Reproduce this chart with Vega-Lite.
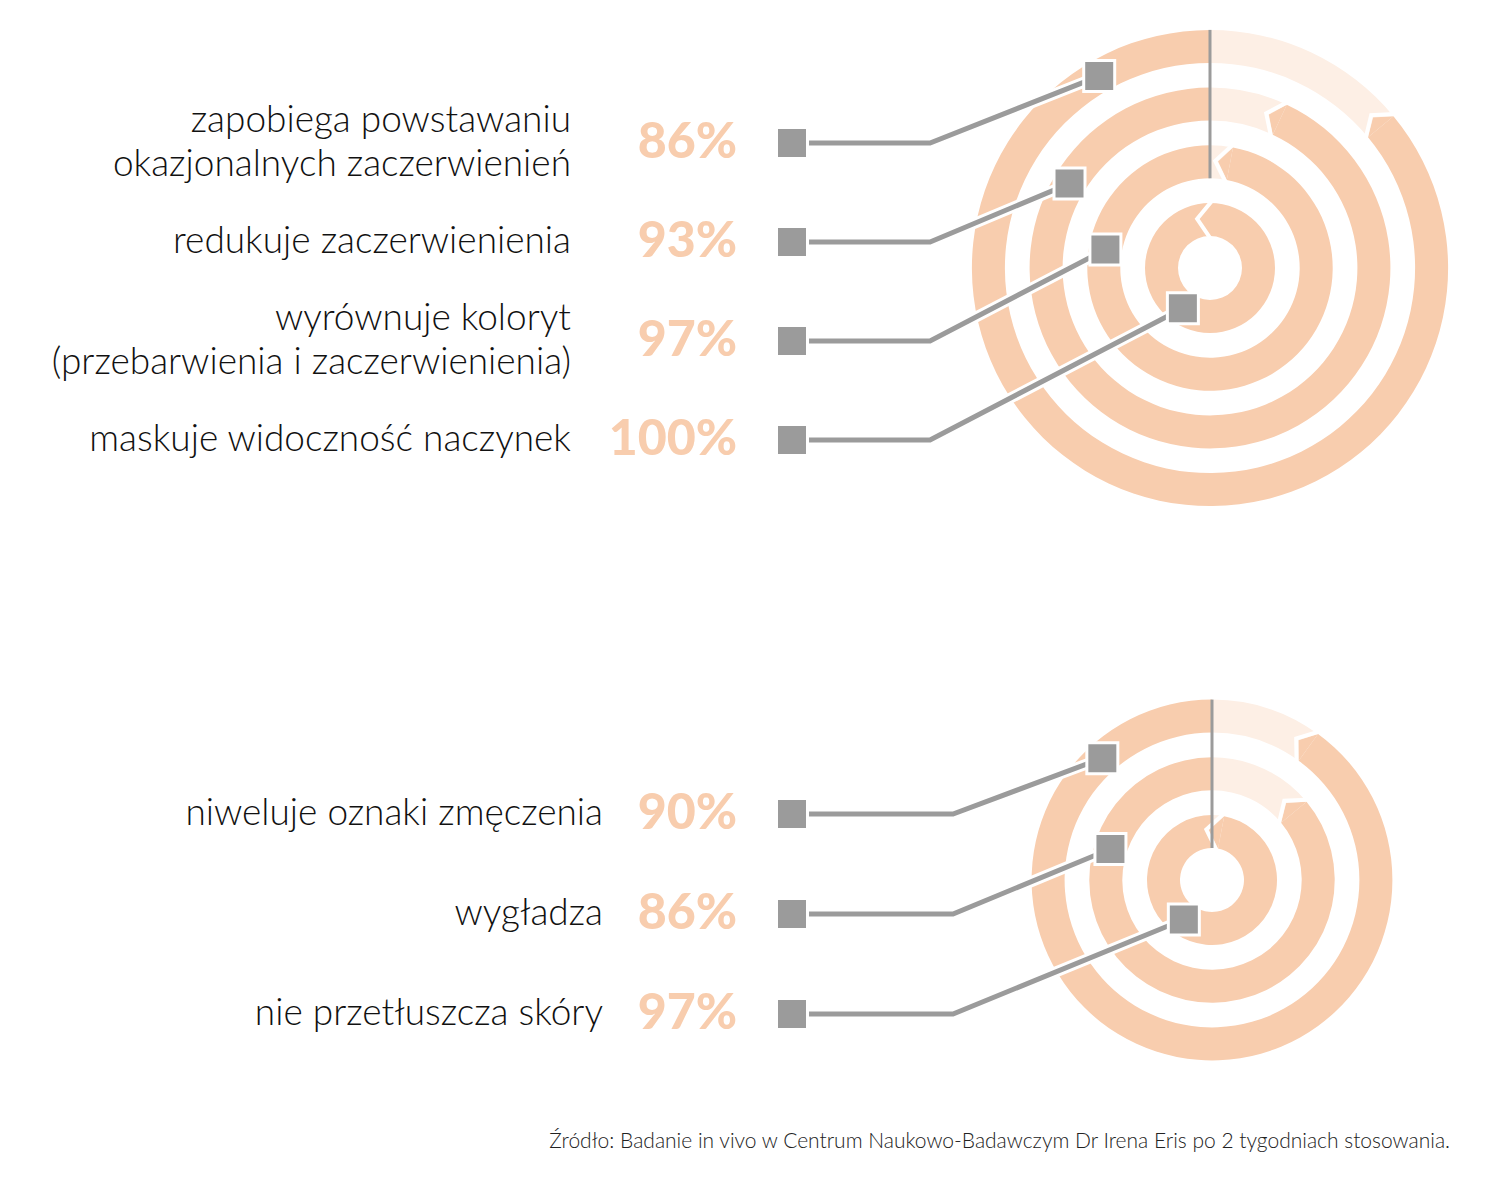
{
  "$schema": "https://vega.github.io/schema/vega-lite/v6.json",
  "width": 1500,
  "height": 1112,
  "padding": 0,
  "background": "white",
  "config": {"view": {"stroke": null}},
  "title": {
    "text": "Źródło: Badanie in vivo w Centrum Naukowo-Badawczym Dr Irena Eris po 2 tygodniach stosowania.",
    "orient": "bottom",
    "anchor": "end",
    "dx": -50,
    "offset": 19,
    "font": "Lato",
    "fontSize": 21,
    "fontWeight": 300,
    "color": "#222222"
  },
  "data": {
    "values": [
      {"panel": "A", "row": 0, "label": "zapobiega powstawaniu\nokazjonalnych zaczerwienień", "value": 86},
      {"panel": "A", "row": 1, "label": "redukuje zaczerwienienia", "value": 93},
      {"panel": "A", "row": 2, "label": "wyrównuje koloryt\n(przebarwienia i zaczerwienienia)", "value": 97},
      {"panel": "A", "row": 3, "label": "maskuje widoczność naczynek", "value": 100},
      {"panel": "B", "row": 0, "label": "niweluje oznaki zmęczenia", "value": 90},
      {"panel": "B", "row": 1, "label": "wygładza", "value": 86},
      {"panel": "B", "row": 2, "label": "nie przetłuszcza skóry", "value": 97}
    ]
  },
  "transform": [
    {"calculate": "datum.panel === 'A' ? 4 : 3", "as": "n"},
    {"calculate": "datum.n - 1 - datum.row", "as": "ring"},
    {"calculate": "datum.panel === 'A' ? 143 + 99 * datum.row : 814 + 100 * datum.row", "as": "rowY"},
    {"calculate": "datum.rowY - 22 * (split(datum.label, '\\n').length - 1)", "as": "labelY"},
    {"calculate": "datum.panel === 'A' ? 1210 : 1212", "as": "cx"},
    {"calculate": "datum.panel === 'A' ? 268 : 880", "as": "cy"},
    {"calculate": "datum.panel === 'A' ? 571 : 603", "as": "labelX"},
    {"calculate": "737", "as": "pctX"},
    {"calculate": "792", "as": "sqX"},
    {"calculate": "datum.panel === 'A' ? 930 : 953", "as": "bendX"},
    {"calculate": "32 + 57.7 * datum.ring", "as": "rIn"},
    {"calculate": "datum.rIn + 16.5", "as": "rMid"},
    {"calculate": "max(100 - datum.value, 0.7)", "as": "g"},
    {"calculate": "datum.value < 100 ? datum.g : 0", "as": "darkStart"},
    {"calculate": "0", "as": "t0"},
    {"calculate": "100", "as": "t1"},
    {"calculate": "datum.g * 3.6", "as": "gDeg"},
    {"calculate": "datum.cx + datum.rMid * sin(datum.g / 100 * 2 * PI)", "as": "gx"},
    {"calculate": "datum.cy - datum.rMid * cos(datum.g / 100 * 2 * PI)", "as": "gy"},
    {"calculate": "datum.panel === 'A' ? [214, 280, 301, 330][datum.ring] : [215.5, 287, 318][datum.ring]", "as": "angDeg"},
    {"calculate": "datum.cx + datum.rMid * sin(datum.angDeg * PI / 180)", "as": "ax"},
    {"calculate": "datum.cy - datum.rMid * cos(datum.angDeg * PI / 180)", "as": "ay"},
    {"calculate": "datum.value + '%'", "as": "pctText"}
  ],
  "layer": [
    {
      "transform": [{"filter": "datum.value < 100"}],
      "mark": {"type": "arc", "color": "#fdefe5", "radiusOffset": 33},
      "encoding": {
        "x": {"field": "cx", "type": "quantitative", "scale": {"domain": [0, 1500], "nice": false, "zero": false}, "axis": null},
        "y": {"field": "cy", "type": "quantitative", "scale": {"domain": [0, 1112], "nice": false, "zero": false, "reverse": true}, "axis": null},
        "theta": {"field": "t0", "type": "quantitative", "scale": {"domain": [0, 100], "range": [0, 6.2831853]}},
        "theta2": {"field": "g"},
        "radius": {"field": "ring", "type": "quantitative", "scale": {"type": "linear", "domain": [0, 3], "range": [32, 205.1], "zero": false}},
        "radius2": {"field": "ring"}
      }
    },
    {
      "mark": {"type": "arc", "color": "#f8cdae", "radiusOffset": 33},
      "encoding": {
        "x": {"field": "cx", "type": "quantitative", "scale": {"domain": [0, 1500], "nice": false, "zero": false}, "axis": null},
        "y": {"field": "cy", "type": "quantitative", "scale": {"domain": [0, 1112], "nice": false, "zero": false, "reverse": true}, "axis": null},
        "theta": {"field": "darkStart", "type": "quantitative", "scale": {"domain": [0, 100], "range": [0, 6.2831853]}},
        "theta2": {"field": "t1"},
        "radius": {"field": "ring", "type": "quantitative", "scale": {"type": "linear", "domain": [0, 3], "range": [32, 205.1], "zero": false}},
        "radius2": {"field": "ring"}
      }
    },
    {
      "transform": [{"filter": "datum.value < 100"}],
      "mark": {"type": "point", "shape": "M0,-0.825L-0.6,0L0,0.825Z", "filled": true, "color": "#f8cdae", "size": 1600, "opacity": 1, "strokeWidth": 0},
      "encoding": {
        "x": {"field": "gx", "type": "quantitative", "scale": {"domain": [0, 1500], "nice": false, "zero": false}, "axis": null},
        "y": {"field": "gy", "type": "quantitative", "scale": {"domain": [0, 1112], "nice": false, "zero": false, "reverse": true}, "axis": null},
        "angle": {"field": "gDeg", "type": "quantitative", "scale": {"domain": [0, 360], "range": [0, 360]}}
      }
    },
    {
      "mark": {"type": "point", "shape": "M0.125,-1L-0.625,0L0.125,1L-0.125,1L-0.875,0L-0.125,-1Z", "filled": true, "color": "white", "size": 1600, "opacity": 1, "strokeWidth": 0},
      "encoding": {
        "x": {"field": "gx", "type": "quantitative", "scale": {"domain": [0, 1500], "nice": false, "zero": false}, "axis": null},
        "y": {"field": "gy", "type": "quantitative", "scale": {"domain": [0, 1112], "nice": false, "zero": false, "reverse": true}, "axis": null},
        "angle": {"field": "gDeg", "type": "quantitative", "scale": {"domain": [0, 360], "range": [0, 360]}}
      }
    },
    {
      "transform": [
        {"filter": "datum.value < 100"},
        {"aggregate": [{"op": "max", "field": "ring", "as": "rmax"}, {"op": "min", "field": "ring", "as": "rmin"}], "groupby": ["panel", "cx", "cy"]},
        {"calculate": "datum.cy - (32 + 57.7 * datum.rmax + 33)", "as": "yTop"},
        {"calculate": "datum.cy - (32 + 57.7 * datum.rmin)", "as": "yBottom"}
      ],
      "mark": {"type": "rule", "color": "#9b9b9b", "strokeWidth": 3},
      "encoding": {
        "x": {"field": "cx", "type": "quantitative", "scale": {"domain": [0, 1500], "nice": false, "zero": false}, "axis": null},
        "y": {"field": "yTop", "type": "quantitative", "scale": {"domain": [0, 1112], "nice": false, "zero": false, "reverse": true}, "axis": null},
        "y2": {"field": "yBottom"}
      }
    },
    {
      "transform": [
        {"fold": ["sqX", "bendX", "ax"], "as": ["pt", "px"]},
        {"calculate": "datum.pt === 'ax' ? datum.ay : datum.rowY", "as": "py"},
        {"calculate": "indexof(['sqX', 'bendX', 'ax'], datum.pt)", "as": "ord"}
      ],
      "mark": {"type": "line", "color": "white", "strokeWidth": 11, "strokeJoin": "miter"},
      "encoding": {
        "x": {"field": "px", "type": "quantitative", "scale": {"domain": [0, 1500], "nice": false, "zero": false}, "axis": null},
        "y": {"field": "py", "type": "quantitative", "scale": {"domain": [0, 1112], "nice": false, "zero": false, "reverse": true}, "axis": null},
        "detail": {"field": "label"},
        "order": {"field": "ord"}
      }
    },
    {
      "transform": [
        {"fold": ["sqX", "bendX", "ax"], "as": ["pt", "px"]},
        {"calculate": "datum.pt === 'ax' ? datum.ay : datum.rowY", "as": "py"},
        {"calculate": "indexof(['sqX', 'bendX', 'ax'], datum.pt)", "as": "ord"}
      ],
      "mark": {"type": "line", "color": "#9b9b9b", "strokeWidth": 5, "strokeJoin": "miter"},
      "encoding": {
        "x": {"field": "px", "type": "quantitative", "scale": {"domain": [0, 1500], "nice": false, "zero": false}, "axis": null},
        "y": {"field": "py", "type": "quantitative", "scale": {"domain": [0, 1112], "nice": false, "zero": false, "reverse": true}, "axis": null},
        "detail": {"field": "label"},
        "order": {"field": "ord"}
      }
    },
    {
      "mark": {"type": "point", "shape": "square", "filled": true, "color": "#9b9b9b", "stroke": "white", "strokeWidth": 3, "size": 961, "opacity": 1},
      "encoding": {
        "x": {"field": "sqX", "type": "quantitative", "scale": {"domain": [0, 1500], "nice": false, "zero": false}, "axis": null},
        "y": {"field": "rowY", "type": "quantitative", "scale": {"domain": [0, 1112], "nice": false, "zero": false, "reverse": true}, "axis": null}
      }
    },
    {
      "mark": {"type": "point", "shape": "square", "filled": true, "color": "#9b9b9b", "stroke": "white", "strokeWidth": 3, "size": 961, "opacity": 1},
      "encoding": {
        "x": {"field": "ax", "type": "quantitative", "scale": {"domain": [0, 1500], "nice": false, "zero": false}, "axis": null},
        "y": {"field": "ay", "type": "quantitative", "scale": {"domain": [0, 1112], "nice": false, "zero": false, "reverse": true}, "axis": null}
      }
    },
    {
      "mark": {"type": "text", "align": "right", "baseline": "middle", "font": "Lato", "fontWeight": 300, "fontSize": 37, "lineHeight": 44, "lineBreak": "\n", "color": "#111111"},
      "encoding": {
        "x": {"field": "labelX", "type": "quantitative", "scale": {"domain": [0, 1500], "nice": false, "zero": false}, "axis": null},
        "y": {"field": "labelY", "type": "quantitative", "scale": {"domain": [0, 1112], "nice": false, "zero": false, "reverse": true}, "axis": null},
        "text": {"field": "label"}
      }
    },
    {
      "mark": {"type": "text", "align": "right", "baseline": "middle", "font": "Lato", "fontWeight": 900, "fontSize": 50, "color": "#f8cdae"},
      "encoding": {
        "x": {"field": "pctX", "type": "quantitative", "scale": {"domain": [0, 1500], "nice": false, "zero": false}, "axis": null},
        "y": {"field": "rowY", "type": "quantitative", "scale": {"domain": [0, 1112], "nice": false, "zero": false, "reverse": true}, "axis": null},
        "text": {"field": "pctText"}
      }
    }
  ]
}
